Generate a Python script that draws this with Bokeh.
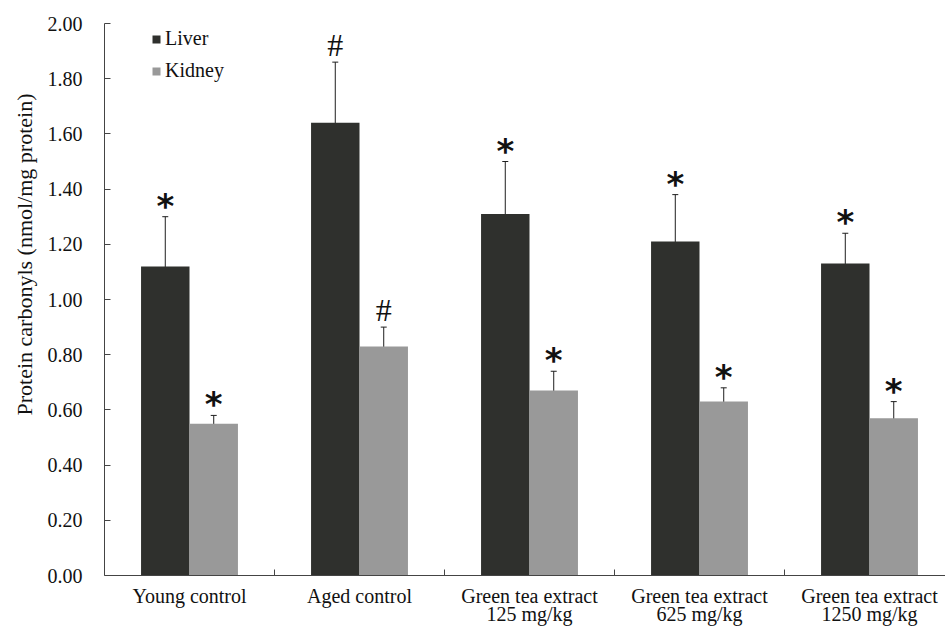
from bokeh.plotting import figure
from bokeh.models import (Range1d, FixedTicker, PrintfTickFormatter, Legend, LegendItem,
                          ColumnDataSource, Whisker, TeeHead, Title, LinearAxis)
from bokeh.core.properties import value
from bokeh.embed import file_html
from bokeh.resources import INLINE

# ---- data ----
category_line1 = ["Young control", "Aged control", "Green tea extract",
                  "Green tea extract", "Green tea extract"]
category_line2 = ["", "", "125 mg/kg", "625 mg/kg", "1250 mg/kg"]
liver = [1.12, 1.64, 1.31, 1.21, 1.13]
liver_err = [0.18, 0.22, 0.19, 0.17, 0.11]
kidney = [0.55, 0.83, 0.67, 0.63, 0.57]
kidney_err = [0.03, 0.07, 0.07, 0.05, 0.06]
liver_marks = ["*", "#", "*", "*", "*"]
kidney_marks = ["*", "#", "*", "*", "*"]
y_ticks = [0.0, 0.2, 0.4, 0.6, 0.8, 1.0, 1.2, 1.4, 1.6, 1.8, 2.0]
y_title = "Protein carbonyls (nmol/mg protein)"

LIVER_COLOR = "#2f302d"
KIDNEY_COLOR = "#999999"
ERR_COLOR = "#1e1e1e"
TEXT_COLOR = "#111111"
AXIS_COLOR = "#444444"
FONT = "Liberation Serif"

n = len(category_line1)
centers = [i + 0.5 for i in range(n)]
boundaries = [i + 1 for i in range(n - 1)]
bw = 0.285
off = bw / 2


def series_source(vals, errs, marks, shift):
    return ColumnDataSource(dict(
        x=[c + shift for c in centers],
        top=vals,
        upper=[v + e for v, e in zip(vals, errs)],
        lower=[v - e for v, e in zip(vals, errs)],
        mark=marks,
    ))


src_l = series_source(liver, liver_err, liver_marks, -off)
src_k = series_source(kidney, kidney_err, kidney_marks, off)

p = figure(width=945, height=632, output_backend="svg", toolbar_location=None,
           x_range=Range1d(0, 4.947), y_range=Range1d(0, 2.0),
           min_border_left=104, min_border_right=0, min_border_top=23, min_border_bottom=57)
p.outline_line_color = None
p.xgrid.grid_line_color = None
p.ygrid.grid_line_color = None
p.background_fill_color = "white"
p.border_fill_color = "white"

r_l = p.vbar(x="x", top="top", width=bw, bottom=0, source=src_l,
             fill_color=LIVER_COLOR, line_color=None)
r_k = p.vbar(x="x", top="top", width=bw, bottom=0, source=src_k,
             fill_color=KIDNEY_COLOR, line_color=None)

for src in (src_l, src_k):
    w = Whisker(base="x", upper="upper", lower="lower", source=src,
                line_color=ERR_COLOR, line_width=1,
                upper_head=TeeHead(size=6, line_color=ERR_COLOR, line_width=1),
                lower_head=TeeHead(size=6, line_color=ERR_COLOR, line_width=1))
    p.add_layout(w)


def subset(src, mark):
    d = src.data
    idx = [i for i, m in enumerate(d["mark"]) if m == mark]
    return ColumnDataSource(dict(x=[d["x"][i] for i in idx],
                                 y=[d["upper"][i] for i in idx],
                                 t=[d["mark"][i] for i in idx]))


for src in (src_l, src_k):
    p.text(x="x", y="y", text="t", source=subset(src, "*"),
           text_font=value("DejaVu Sans"), text_font_style="bold",
           text_font_size="34px", text_align="center",
           text_baseline="alphabetic", y_offset=-11, text_color=TEXT_COLOR)
    p.text(x="x", y="y", text="t", source=subset(src, "#"),
           text_font=value(FONT), text_font_size="32px", text_align="center",
           text_baseline="alphabetic", y_offset=-17, text_color=TEXT_COLOR)

# x axis: first label line, with boundary ticks pointing inward
ax = p.xaxis[0]
ax.ticker = FixedTicker(ticks=centers, minor_ticks=boundaries)
ax.major_label_overrides = {c: lab for c, lab in zip(centers, category_line1)}
ax.major_tick_line_color = None
ax.major_tick_in = 0
ax.major_tick_out = 0
ax.minor_tick_in = 6
ax.minor_tick_out = 0
ax.minor_tick_line_color = AXIS_COLOR
ax.axis_line_color = AXIS_COLOR
ax.major_label_text_font = FONT
ax.major_label_text_font_size = "20px"
ax.major_label_text_color = TEXT_COLOR
ax.major_label_standoff = 9

# second label line
ax2 = LinearAxis(ticker=FixedTicker(ticks=centers, minor_ticks=[]),
                 major_label_overrides={c: lab for c, lab in zip(centers, category_line2)},
                 axis_line_color=None, major_tick_line_color=None, minor_tick_line_color=None,
                 major_tick_in=0, major_tick_out=0,
                 major_label_text_font=FONT, major_label_text_font_size="20px",
                 major_label_text_color=TEXT_COLOR, major_label_standoff=-7)
p.add_layout(ax2, "below")

ay = p.yaxis[0]
ay.ticker = FixedTicker(ticks=y_ticks, minor_ticks=[])
ay.formatter = PrintfTickFormatter(format="%.2f")
ay.major_tick_in = 6
ay.major_tick_out = 0
ay.minor_tick_line_color = None
ay.major_tick_line_color = AXIS_COLOR
ay.axis_line_color = AXIS_COLOR
ay.major_label_text_font = FONT
ay.major_label_text_font_size = "20px"
ay.major_label_text_color = TEXT_COLOR
ay.major_label_standoff = 22

p.add_layout(Title(text=y_title, align="left", offset=160, standoff=15,
                   text_font=FONT, text_font_size="22px", text_font_style="normal",
                   text_color=TEXT_COLOR), "left")

legend = Legend(items=[LegendItem(label="Liver", renderers=[r_l]),
                       LegendItem(label="Kidney", renderers=[r_k])],
                location=(47, 493), padding=0, margin=0, spacing=9,
                glyph_width=10, glyph_height=10, label_standoff=4, label_height=20,
                label_text_font=FONT, label_text_font_size="20px",
                label_text_color=TEXT_COLOR,
                border_line_color=None, background_fill_alpha=0)
p.add_layout(legend)

open("out.html", "w").write(file_html(p, INLINE))
